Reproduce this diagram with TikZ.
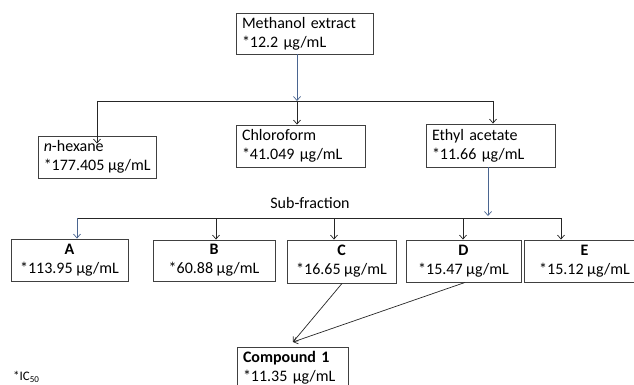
\documentclass[tikz,border=0pt]{standalone}
\usepackage{fontspec}
\setmainfont{Carlito}
\usetikzlibrary{arrows.meta}
\definecolor{bluearr}{HTML}{4A6590}
\definecolor{boxline}{HTML}{404040}
\tikzset{
  box/.style={draw=boxline, line width=0.9pt, rectangle, inner xsep=6pt, inner ysep=0pt,
    font=\fontsize{16}{19}\selectfont},
  lbox/.style={box, align=left},
  cbox/.style={box, align=center, inner xsep=0pt},
  btext/.style={inner sep=0pt, align=left, anchor=west, font=\fontsize{16}{19}\selectfont},
  conn/.style={line width=0.7pt, draw=black!85},
  arr/.style={conn, -{Straight Barb[length=4pt,width=7pt]}},
  barr/.style={arr, draw=bluearr},
}
\begin{document}
\begin{tikzpicture}[x=1pt,y=-1pt]
\useasboundingbox (0,0) rectangle (634,385);
% top level
\node[lbox, minimum width=137, minimum height=41, text width=125] (meth) at (304.5,33.5)
  {Methanol extract\\\relax *12.2 μg/mL};
\node[box, minimum width=118, minimum height=42] (hex) at (97,157) {};
\node[btext] (hext) at ([xshift=6pt]hex.west)
  {\textit{n}-hexane\\\relax *177.405 μg/mL};
\node[lbox, minimum width=129, minimum height=42, text width=117] (chl) at (300.5,146)
  {Chloroform\\\relax *41.049 μg/mL};
\node[lbox, minimum width=129, minimum height=43, text width=117] (eth) at (490.5,145.5)
  {Ethyl acetate\\\relax *11.66 μg/mL};
% junctions
\coordinate (j0) at (297,101);
\coordinate (jl) at (97,101);
\coordinate (jr) at (493,101);
\draw[barr] (meth.south -| j0) -- (j0);
\draw[conn] (jl) -- (jr);
\draw[arr] (jl) -- ([yshift=-8]hex.north -| jl);
\draw[arr] (j0) -- (chl.north -| j0);
\draw[arr] (jr) -- (eth.north -| jr);
% sub-fractions
\node[font=\fontsize{16}{19}\selectfont] (sub) at (310,203) {Sub-fraction};
\node[cbox, minimum width=117, minimum height=42] (A) at (69.5,260)
  {\textbf{A}\\\relax *113.95 μg/mL};
\node[cbox, minimum width=122, minimum height=41] (B) at (214,260.5)
  {\textbf{B}\\\relax *60.88 μg/mL};
\node[cbox, minimum width=109, minimum height=43] (C) at (341.5,261.5)
  {\textbf{C}\\\relax *16.65 μg/mL};
\node[cbox, minimum width=115, minimum height=42] (D) at (463.5,261)
  {\textbf{D}\\\relax *15.47 μg/mL};
\node[cbox, minimum width=121, minimum height=42] (E) at (584.5,261)
  {\textbf{E}\\\relax *15.12 μg/mL};
\coordinate (k0) at (488,216);
\coordinate (ka) at (77,218);
\coordinate (kb) at (216,218);
\coordinate (kc) at (334,218);
\coordinate (kd) at (463,218);
\coordinate (ke) at (561,218);
\draw[barr] (eth.south -| k0) -- (k0);
\draw[conn] (ka) -- (ke);
\draw[barr] (ka) -- (A.north -| ka);
\draw[arr] (kb) -- (B.north -| kb);
\draw[arr] (kc) -- (C.north -| kc);
\draw[arr] (kd) -- (D.north -| kd);
\draw[arr] (ke) -- (E.north -| ke);
% compound
\node[lbox, minimum width=111, minimum height=42, text width=99] (comp) at (292.5,368)
  {\textbf{Compound 1}\\\relax *11.35 μg/mL};
\coordinate (tip) at (293,342);
\draw[arr] ([xshift=0.5]C.south) -- (tip);
\draw[arr] ([xshift=1.5]D.south) -- (tip);
% footnote
\node[anchor=west, font=\fontsize{13}{15}\selectfont, inner sep=0pt] (ic) at (13,377)
  {*IC\raisebox{-2.5pt}{\fontsize{9}{9}\selectfont 50}};
\end{tikzpicture}
\end{document}
